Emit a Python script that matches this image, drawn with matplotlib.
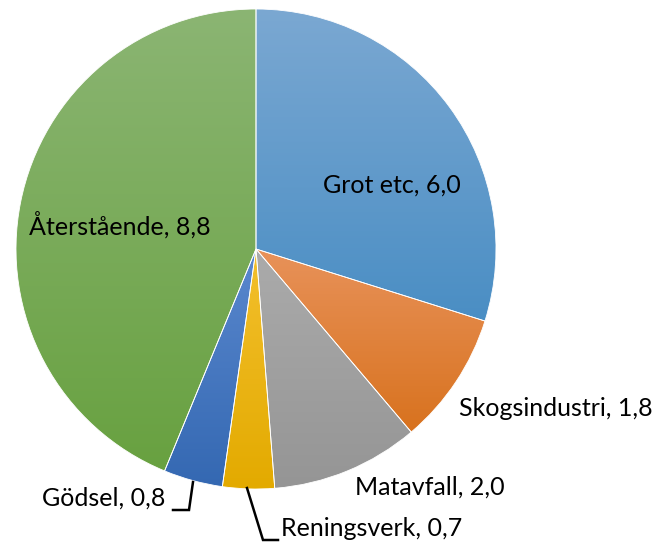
import numpy as np
import matplotlib
matplotlib.use("Agg")
import matplotlib.pyplot as plt
from matplotlib.colors import LinearSegmentedColormap

labels = ["Grot etc", "Skogsindustri", "Matavfall", "Reningsverk", "Gödsel", "Återstående"]
values = [6.0, 1.8, 2.0, 0.7, 0.8, 8.8]
value_text = ["6,0", "1,8", "2,0", "0,7", "0,8", "8,8"]

top_colors = ["#7BA8D2", "#E8925A", "#ABABAB", "#F3C02E", "#5A88CE", "#8BB573"]
bot_colors = ["#4A8EC4", "#D8721E", "#959595", "#E3AA00", "#3468B2", "#68A140"]

W, H = 654, 547
cx, cy, R = 256, 249, 240

fig = plt.figure(figsize=(W / 100, H / 100), dpi=100)
ax = fig.add_axes([0, 0, 1, 1])
ax.axis("off")

wedges, _ = ax.pie(values, startangle=90, counterclock=False, radius=1,
                   colors=bot_colors, wedgeprops=dict(edgecolor="white", linewidth=0.6))
ax.set_aspect("auto")
ax.set_xlim(-cx / R, (W - cx) / R)
ax.set_ylim(-(H - cy) / R, cy / R)

for w, c1, c2 in zip(wedges, top_colors, bot_colors):
    verts = w.get_path().vertices
    x0, x1 = verts[:, 0].min(), verts[:, 0].max()
    y0, y1 = verts[:, 1].min(), verts[:, 1].max()
    cmap = LinearSegmentedColormap.from_list("g", [c2, c1])
    grad = np.linspace(0, 1, 256).reshape(-1, 1)
    im = ax.imshow(grad, cmap=cmap, extent=[x0, x1, y0, y1], origin="lower",
                   aspect="auto", zorder=1.5, interpolation="bilinear")
    im.set_clip_path(w)

for w in wedges:
    w.set_facecolor("none")
    w.set_zorder(2)

ax.set_aspect("auto")
ax.set_xlim(-cx / R, (W - cx) / R)
ax.set_ylim(-(H - cy) / R, cy / R)

def px(x, y):
    return ((x - cx) / R, (cy - y) / R)

font = dict(family="Lato", fontsize=18, color="black", va="center", ha="center")
label_pos = [(392, 185), (556, 408), (430, 487), (372, 529), (104, 498), (120, 225)]
for lab, vt, p in zip(labels, value_text, label_pos):
    ax.text(*px(*p), f"{lab}, {vt}", zorder=5, **font)

# leader lines
g = [px(193, 482), px(189, 510), px(173, 510)]
ax.plot([p[0] for p in g], [p[1] for p in g], color="black", lw=1.8, zorder=4,
        solid_joinstyle="miter")
r = [px(247, 488), px(263, 540), px(278, 540)]
ax.plot([p[0] for p in r], [p[1] for p in r], color="black", lw=1.8, zorder=4,
        solid_joinstyle="miter")

fig.savefig("out.png", dpi=100, facecolor="white")
